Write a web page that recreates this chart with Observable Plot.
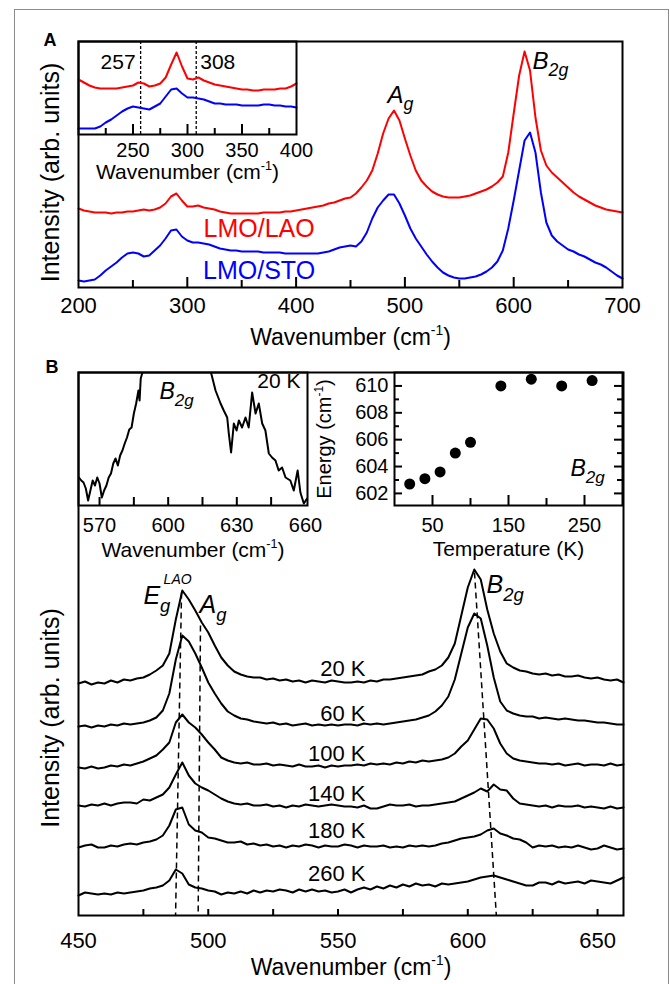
<!DOCTYPE html>
<html>
<head>
<meta charset="utf-8">
<script src="https://cdn.jsdelivr.net/npm/d3@7"></script>
<script src="https://cdn.jsdelivr.net/npm/@observablehq/plot@0.6"></script>
<style>
  html, body { margin: 0; padding: 0; background: #fff; }
  #fig { position: relative; width: 670px; height: 984px; overflow: hidden; background: #fff;
         font-family: "Liberation Sans", Arial, Helvetica, sans-serif; }
  #fig svg { position: absolute; overflow: visible; }
  .outer { position: absolute; left: 14px; top: 9px; width: 653px; height: 1000px; border: 1.5px solid #8a8a8a; }
</style>
</head>
<body>
<div id="fig"><div class="outer"></div></div>
<script>
// ---------------- DATA ----------------
// Panel A (main): wavenumber grid (cm-1) and Raman intensity (arb. units)
const wnA = [200,205,210,215,220,225,230,235,240,245,
  250,255,260,265,270,275,280,285,290,295,
  300,305,310,315,320,325,330,335,340,345,
  350,355,360,365,370,375,380,385,390,395,
  400,405,410,415,420,425,430,435,440,445,
  450,455,460,465,470,475,480,485,490,495,
  500,505,510,515,520,525,530,535,540,545,
  550,555,560,565,570,575,580,585,590,595,
  600,605,610,615,620,625,630,635,640,645,
  650,655,660,665,670,675,680,685,690,695,700];
const lmoLaoA = [79,77,76,75,75,75,74,75,75,76,
  76,77,78,77,78,80,84,91,94,87,
  81,81,82,80,79,78,76,75,74,74,
  74,74,74,74,75,75,75,75,76,76,
  77,78,79,80,81,82,84,85,87,89,
  90,94,100,107,117,134,154,169,177,167,
  149,132,117,107,101,96,93,91,90,90,
  90,91,92,94,96,98,101,105,111,135,
  174,212,236,217,170,137,122,115,110,105,
  100,95,91,88,85,82,80,78,77,76,75];
const lmoStoA = [7,6,7,8,12,17,21,25,30,34,
  35,34,31,32,37,42,49,57,58,51,
  47,45,45,44,43,41,39,38,37,37,
  36,36,36,36,35,35,35,35,34,34,
  34,34,34,34,34,35,36,38,40,41,
  42,41,46,55,69,80,87,93,93,84,
  72,59,49,41,33,26,20,15,12,10,
  9,9,10,11,13,16,20,26,37,59,
  87,117,147,155,135,95,65,52,46,42,
  38,36,33,31,28,25,23,20,16,12,9];

// Panel A (inset): low-frequency region
const wnAin = [200,205,210,215,220,225,230,235,240,245,
  250,255,260,265,270,275,280,285,290,295,
  300,305,310,315,320,325,330,335,340,345,
  350,355,360,365,370,375,380,385,390,395,400];
const lmoLaoIn = [55,52,49,47,46,46,46,46,47,48,
  49,52,51,48,49,51,57,70,82,68,
  56,55,57,54,52,50,49,48,47,46,
  45,45,44,44,45,45,45,46,46,48,51];
const lmoStoIn = [6,6,6,6,8,12,15,19,23,26,
  28,27,26,25,28,31,38,45,46,41,
  37,37,36,35,33,31,31,30,30,30,
  29,29,29,29,30,30,29,29,28,28,27];
const insetMarkers = [257, 308];

// Panel B (main): temperature-dependent spectra (stacked)
const wnB = [450,452.5,455,457.5,460,462.5,465,467.5,470,472.5,
  475,477.5,480,482.5,485,487.5,490,492.5,495,497.5,
  500,502.5,505,507.5,510,512.5,515,517.5,520,522.5,
  525,527.5,530,532.5,535,537.5,540,542.5,545,547.5,
  550,552.5,555,557.5,560,562.5,565,567.5,570,572.5,
  575,577.5,580,582.5,585,587.5,590,592.5,595,597.5,
  600,602.5,605,607.5,610,612.5,615,617.5,620,622.5,
  625,627.5,630,632.5,635,637.5,640,642.5,645,647.5,
  650,652.5,655,657.5,660];
const s20K = [232,234,231,233,232,235,233,236,235,237,
  238,241,245,250,262,296,325,316,305,293,
  283,270,258,250,244,241,239,238,238,236,
  237,235,236,234,235,233,235,234,233,235,
  234,233,233,234,233,235,234,236,236,237,
  238,239,240,241,244,246,250,258,272,300,
  328,346,336,306,282,264,252,248,245,244,
  242,241,242,240,241,239,239,240,238,237,
  238,236,235,236,233];
const s60K = [189,190,188,190,189,191,190,192,191,192,
  193,195,198,205,222,256,280,274,262,248,
  233,222,212,204,200,197,196,194,193,192,
  193,191,192,190,191,192,190,191,190,191,
  190,191,191,190,192,191,192,191,192,193,
  194,195,196,198,200,204,210,219,236,262,
  288,302,297,270,238,214,205,202,200,199,
  199,197,198,197,196,197,196,195,195,194,
  193,193,192,191,191];
const s100K = [148,147,149,147,148,150,149,151,150,152,
  154,157,160,166,173,193,201,193,188,181,
  173,166,158,155,153,152,153,151,151,152,
  150,151,150,149,151,149,149,150,148,150,
  149,150,150,151,150,152,151,152,151,153,
  152,154,153,155,154,155,156,158,162,169,
  175,186,197,196,187,172,162,157,155,154,
  153,152,152,151,152,150,151,152,150,151,
  151,150,152,150,151];
const s140K = [110,109,111,110,112,110,112,113,113,112,
  116,115,118,121,128,141,153,140,132,128,
  125,121,117,114,112,111,112,110,110,111,
  109,110,108,110,109,111,110,109,110,111,
  110,109,109,108,110,107,107,109,111,110,
  110,111,109,110,110,111,112,113,114,117,
  120,123,127,124,131,126,125,117,112,111,
  110,109,110,108,110,109,109,110,108,109,
  108,107,109,107,108];
const s180K = [68,70,71,68,68,70,69,71,72,71,
  73,74,76,80,90,106,108,91,85,83,
  78,77,75,73,73,74,71,72,70,71,
  69,70,68,70,69,71,70,68,70,69,
  69,71,70,68,70,69,69,70,68,69,
  68,70,69,70,69,70,72,73,75,77,
  78,79,81,85,87,82,80,77,76,73,
  68,70,69,70,68,69,68,70,68,66,
  67,70,68,66,67];
const s260K = [20,23,22,21,22,21,23,22,23,24,
  25,27,28,30,35,46,42,31,28,27,
  25,24,21,23,22,24,22,25,23,25,
  24,26,25,23,26,24,26,24,25,23,
  24,26,23,26,28,26,29,27,30,28,
  31,29,32,30,31,29,32,31,32,33,
  34,36,38,39,40,38,36,34,32,30,
  30,33,33,31,34,32,33,34,32,35,
  34,33,32,35,38];
const tempNames = ["20 K","60 K","100 K","140 K","180 K","260 K"];
// peak-tracking guide lines (wavenumber at top / bottom of each guide, intensity at top)
const guideWnTop = [489.7, 497.0, 602.6];
const guideWnBottom = [487.4, 496.1, 611.0];
const guideTopI = [323, 290, 343];

// Panel B inset (left): B2g mode at 20 K
const wnBin = [561,562,563,564,565,566,567,568,569,570,
  571,572,573,574,575,576,577,578,579,580,
  581,582,583,584,585,586,587,587.5,588,589,
  590,595,600,604,608,612,616,618.5,620.7,622.9,
  624.3,625.8,626.5,627.5,628.7,629.9,630.9,632.3,633.8,635.2,
  636.7,638.2,639.6,641.1,642.5,644,645.4,646.9,648.3,649.8,
  651.3,653.4,654.9,656.6,657.8,659.3,660.7];
const b2gIn = [28,25,23,17,5,15,25,20,28,22,
  8,15,20,28,32,42,47,40,50,55,
  62,68,76,78,92,102,115,105,127,135,
  150,210,260,280,260,210,160,135,115,102,
  95,88,72,53,82,75,85,78,88,78,
  113,92,102,82,75,52,48,45,35,38,
  28,25,15,35,13,2,7];

// Panel B inset (right): B2g energy vs temperature
const temperature = [20,40,60,80,100,140,180,220,260];
const b2gEnergy = [602.7,603.1,603.6,605.0,605.8,610.0,610.5,610.0,610.4];

// ---------------- HELPERS ----------------
const FONT = '"Liberation Sans", Arial, Helvetica, sans-serif';
const ST = {fontFamily: FONT, background: "transparent", overflow: "visible", color: "black"};
const fig = document.getElementById("fig");
const zipXY = (xs, ys) => xs.map((x, i) => ({x, y: ys[i]}));

function rich(svg) {
  svg.querySelectorAll("text").forEach(t => {
    const s = t.textContent;
    if (!/[_^]\{/.test(s)) return;
    const fs = parseFloat(getComputedStyle(t).fontSize) || 16;
    const parts = s.split(/([_^]\{[^}]*\})/).filter(p => p.length);
    t.textContent = "";
    let shift = 0;
    for (const p of parts) {
      const ts = document.createElementNS("http://www.w3.org/2000/svg", "tspan");
      let target = 0, size = fs, txt = p;
      if (p[0] === "_") { target = 0.32 * fs; size = 0.74 * fs; txt = p.slice(2, -1); }
      else if (p[0] === "^") { target = -0.42 * fs; size = 0.6 * fs; txt = p.slice(2, -1); }
      ts.setAttribute("dy", (target - shift).toFixed(2));
      ts.setAttribute("font-size", size.toFixed(2));
      ts.textContent = txt;
      shift = target;
      t.appendChild(ts);
    }
  });
}
function place(svg, left, top) {
  svg.style.left = left + "px";
  svg.style.top = top + "px";
  fig.appendChild(svg);
  rich(svg);
}

// ---------------- PANEL A (main) ----------------
const plotA = Plot.plot({
  width: 670, height: 360,
  marginLeft: 78, marginRight: 48, marginTop: 41, marginBottom: 73,
  x: {domain: [200, 700]},
  y: {domain: [0, 246], axis: null},
  style: ST,
  marks: [
    Plot.line(zipXY(wnA, lmoLaoA), {x: "x", y: "y", stroke: "#ff0000", strokeWidth: 2}),
    Plot.line(zipXY(wnA, lmoStoA), {x: "x", y: "y", stroke: "#0000ff", strokeWidth: 2}),
    Plot.tickX([300, 400, 500, 600], {x: d => d, insetTop: 246 - 10, strokeWidth: 2}),
    Plot.tickX([250, 350, 450, 550, 650], {x: d => d, insetTop: 246 - 7, strokeWidth: 2}),
    Plot.frame({stroke: "black", strokeWidth: 2}),
    Plot.axisX({ticks: [200, 300, 400, 500, 600, 700], tickSize: 0, tickPadding: 10, fontSize: 22, label: null}),
    Plot.text(["Wavenumber (cm^{-1})"], {text: d => d, frameAnchor: "bottom", dy: 50, textAnchor: "middle", lineAnchor: "middle", fontSize: 23}),
    Plot.text(["Intensity (arb. units)"], {text: d => d, frameAnchor: "left", rotate: -90, dx: -28, dy: 8, textAnchor: "middle", lineAnchor: "middle", fontSize: 25}),
    Plot.text(["A"], {text: d => d, frameAnchor: "top-left", dx: -35, dy: 4, textAnchor: "start", lineAnchor: "bottom", fontSize: 18, fontWeight: "bold"}),
    Plot.text([{x: 366, y: 59}], {x: "x", y: "y", text: () => "LMO/LAO", fill: "#ff0000", fontSize: 25}),
    Plot.text([{x: 366, y: 17}], {x: "x", y: "y", text: () => "LMO/STO", fill: "#0000ff", fontSize: 25}),
    Plot.text([{x: 484, y: 185, t: "A_{g}"}, {x: 617.3, y: 219, t: "B_{2g}"}],
      {x: "x", y: "y", text: "t", textAnchor: "start", lineAnchor: "bottom", fontSize: 24, fontStyle: "italic"})
  ]
});
place(plotA, 0, 0);

// ---------------- PANEL A (inset) ----------------
const plotAin = Plot.plot({
  width: 340, height: 190,
  marginLeft: 78, marginRight: 44, marginTop: 41, marginBottom: 56,
  x: {domain: [200, 400]},
  y: {domain: [0, 93], axis: null},
  style: ST,
  marks: [
    Plot.ruleX(insetMarkers, {x: d => d, stroke: "black", strokeWidth: 1.3, strokeDasharray: "3,2"}),
    Plot.line(zipXY(wnAin, lmoLaoIn), {x: "x", y: "y", stroke: "#ff0000", strokeWidth: 2}),
    Plot.line(zipXY(wnAin, lmoStoIn), {x: "x", y: "y", stroke: "#0000ff", strokeWidth: 2}),
    Plot.tickX([250, 300, 350], {x: d => d, insetTop: 93 - 10, strokeWidth: 2}),
    Plot.tickX([225, 275, 325, 375], {x: d => d, insetTop: 93 - 6, strokeWidth: 2}),
    Plot.frame({stroke: "black", strokeWidth: 2}),
    Plot.axisX({ticks: [250, 300, 350, 400], tickSize: 0, tickPadding: 8, fontSize: 20, label: null}),
    Plot.text(["Wavenumber (cm^{-1})"], {text: d => d, frameAnchor: "bottom", dy: 38, textAnchor: "middle", lineAnchor: "middle", fontSize: 21}),
    Plot.text([insetMarkers[0]], {x: d => d, y: () => 72, text: d => String(d), textAnchor: "end", dx: -5, fontSize: 21}),
    Plot.text([insetMarkers[1]], {x: d => d, y: () => 72, text: d => String(d), textAnchor: "start", dx: 4, fontSize: 21})
  ]
});
place(plotAin, 0, 0);

// ---------------- PANEL B (main) ----------------
const seriesB = [s20K, s60K, s100K, s140K, s180K, s260K];
const tempLabelI = [247, 202, 162, 122, 85, 42];
const plotB = Plot.plot({
  width: 670, height: 644,
  marginLeft: 78, marginRight: 47, marginTop: 32, marginBottom: 69,
  x: {domain: [450, 660]},
  y: {domain: [0, 543], axis: null},
  style: ST,
  marks: [
    ...seriesB.map(s => Plot.line(zipXY(wnB, s), {x: "x", y: "y", stroke: "black", strokeWidth: 2})),
    Plot.link(guideWnTop.map((w, i) => ({x1: w, y1: guideTopI[i], x2: guideWnBottom[i], y2: 0})),
      {x1: "x1", y1: "y1", x2: "x2", y2: "y2", stroke: "black", strokeWidth: 1.5, strokeDasharray: "6,4"}),
    Plot.tickX([475, 500, 525, 550, 575, 600, 625, 650], {x: d => d, insetTop: 543 - 6, strokeWidth: 2}),
    Plot.frame({stroke: "black", strokeWidth: 2}),
    Plot.axisX({ticks: [450, 500, 550, 600, 650], tickSize: 0, tickPadding: 17, fontSize: 22, label: null}),
    Plot.text(["Wavenumber (cm^{-1})"], {text: d => d, frameAnchor: "bottom", dy: 52, textAnchor: "middle", lineAnchor: "middle", fontSize: 23}),
    Plot.text(["Intensity (arb. units)"], {text: d => d, frameAnchor: "left", rotate: -90, dx: -28, dy: 74, textAnchor: "middle", lineAnchor: "middle", fontSize: 25}),
    Plot.text(["B"], {text: d => d, frameAnchor: "top-left", dx: -33, dy: 0, textAnchor: "start", lineAnchor: "bottom", fontSize: 18, fontWeight: "bold"}),
    Plot.text(tempNames, {x: () => 560.6, y: (d, i) => tempLabelI[i], text: d => d, textAnchor: "end", fontSize: 22}),
    Plot.text([{x: 475, y: 312, t: "E_{g}"}, {x: 496.6, y: 303, t: "A_{g}"}, {x: 607.2, y: 323, t: "B_{2g}"}],
      {x: "x", y: "y", text: "t", textAnchor: "start", lineAnchor: "bottom", fontSize: 25, fontStyle: "italic"}),
    Plot.text([{x: 482.8, y: 332, t: "LAO"}],
      {x: "x", y: "y", text: "t", textAnchor: "start", lineAnchor: "bottom", fontSize: 14, fontStyle: "italic"})
  ]
});
place(plotB, 0, 340);

// ---------------- PANEL B (left inset) ----------------
const plotBin = Plot.plot({
  width: 340, height: 240,
  marginLeft: 78, marginRight: 33, marginTop: 32, marginBottom: 75,
  x: {domain: [560.8, 660.9]},
  y: {domain: [0, 133], axis: null},
  style: ST,
  marks: [
    Plot.line(zipXY(wnBin, b2gIn), {x: "x", y: "y", stroke: "black", strokeWidth: 2, clip: true}),
    Plot.tickX([570, 585, 600, 615, 630, 645], {x: d => d, insetTop: 133 - 8, strokeWidth: 2}),
    Plot.frame({stroke: "black", strokeWidth: 2}),
    Plot.axisX({ticks: [570, 600, 630, 660], tickSize: 0, tickPadding: 12, fontSize: 20, label: null}),
    Plot.text(["Wavenumber (cm^{-1})"], {text: d => d, frameAnchor: "bottom", dy: 45, textAnchor: "middle", lineAnchor: "middle", fontSize: 21}),
    Plot.text([{x: 596.2, y: 107, t: "B_{2g}"}], {x: "x", y: "y", text: "t", textAnchor: "start", lineAnchor: "bottom", fontSize: 23, fontStyle: "italic"}),
    Plot.text([{x: 657.8, y: 124, t: "20 K"}], {x: "x", y: "y", text: "t", textAnchor: "end", fontSize: 21})
  ]
});
place(plotBin, 0, 340);

// ---------------- PANEL B (right inset) ----------------
const plotBT = Plot.plot({
  width: 670, height: 240,
  marginLeft: 394, marginRight: 48, marginTop: 32, marginBottom: 75,
  x: {domain: [0, 300]},
  y: {domain: [601.1, 611]},
  style: ST,
  marks: [
    Plot.dot(temperature.map((T, i) => ({T, E: b2gEnergy[i]})), {x: "T", y: "E", r: 5.5, fill: "black", stroke: "none"}),
    Plot.tickX([50, 150, 250], {x: d => d, insetTop: 133 - 10, strokeWidth: 2}),
    Plot.tickX([100, 200], {x: d => d, insetTop: 133 - 7, strokeWidth: 2}),
    Plot.tickY([602, 604, 606, 608, 610], {y: d => d, insetRight: 228 - 8, strokeWidth: 2}),
    Plot.tickY([603, 605, 607, 609], {y: d => d, insetRight: 228 - 5, strokeWidth: 2}),
    Plot.tickY([602, 604, 606, 608, 610], {y: d => d, insetLeft: 228 - 8, strokeWidth: 2}),
    Plot.tickY([603, 605, 607, 609], {y: d => d, insetLeft: 228 - 5, strokeWidth: 2}),
    Plot.frame({stroke: "black", strokeWidth: 2}),
    Plot.axisX({ticks: [50, 150, 250], tickSize: 0, tickPadding: 12, fontSize: 20, label: null}),
    Plot.axisY({ticks: [602, 604, 606, 608, 610], tickSize: 0, tickPadding: 6, fontSize: 20, label: null}),
    Plot.text(["Temperature (K)"], {text: d => d, frameAnchor: "bottom", dy: 44, textAnchor: "middle", lineAnchor: "middle", fontSize: 21}),
    Plot.text(["Energy (cm^{-1})"], {text: d => d, frameAnchor: "left", rotate: -90, dx: -70, textAnchor: "middle", lineAnchor: "middle", fontSize: 20}),
    Plot.text([{x: 231.6, y: 603.3, t: "B_{2g}"}], {x: "x", y: "y", text: "t", textAnchor: "start", lineAnchor: "bottom", fontSize: 23, fontStyle: "italic"})
  ]
});
place(plotBT, 0, 340);
</script>
</body>
</html>
